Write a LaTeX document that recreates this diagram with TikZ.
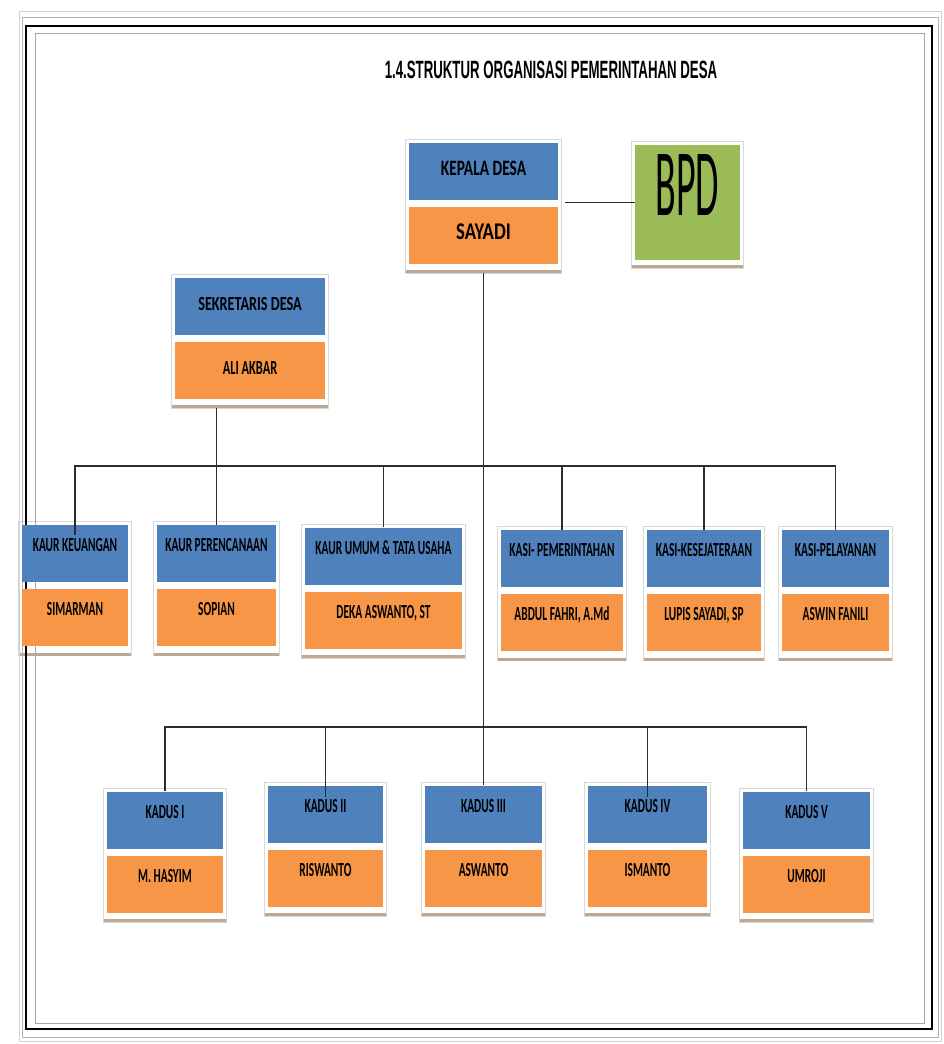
\documentclass[tikz,border=0pt]{standalone}
\usepackage{fontspec}
\setmainfont{Carlito}
\newfontfamily\judulfont{Liberation Sans}
\usetikzlibrary{positioning, calc, backgrounds}
\definecolor{kotakbiru}{RGB}{79,129,189}
\definecolor{kotakoranye}{RGB}{247,150,70}
\definecolor{kotakhijau}{RGB}{155,187,89}
\definecolor{bayang}{RGB}{190,168,145}
\definecolor{tepi}{RGB}{215,215,215}
\definecolor{garis}{RGB}{45,45,45}
\newcommand{\sempit}[2][0.57]{\scalebox{#1}[1]{#2}}

\begin{document}
\begin{tikzpicture}[x=1pt, y=-1pt,
    kotak/.style={inner sep=0pt, minimum height=57pt, text=black,
      font=\bfseries\fontsize{20}{20}\selectfont, text height=12pt, text depth=16pt},
    jabatan/.style={kotak, fill=kotakbiru, minimum width=#1},
    nama/.style={kotak, fill=kotakoranye, minimum width=#1},
    tengah/.style={text depth=4pt},
    hubung/.style={draw=garis, line width=1.4pt}]
  \useasboundingbox (0,0) rectangle (944,1044);
  % bingkai halaman
  \draw[gray!35, line width=1pt] (19,11) rectangle (941,1041);
  \draw[gray!60, line width=1pt] (22,17) rectangle (938,1037);
  \draw[black, line width=1.6pt] (26,26) rectangle (932,1029);
  \draw[gray!70, line width=1pt] (35,33) rectangle (924,1023);

  \node[font=\judulfont\bfseries\fontsize{25}{25}\selectfont] (judul) at (551,70)
    {\scalebox{0.53}[1]{1.4.STRUKTUR ORGANISASI PEMERINTAHAN DESA}};

  % kepala desa, bpd, sekretaris
  \node[jabatan=149pt, tengah, font=\bfseries\fontsize{22}{22}\selectfont] (kades) at (483.5,171) {\sempit[0.7]{KEPALA DESA}};
  \node[nama=149pt, tengah, font=\bfseries\fontsize{24}{24}\selectfont, below=7pt of kades] (kades-n) {\sempit[0.78]{SAYADI}};
  \node[fill=kotakhijau, minimum width=105pt, minimum height=115pt, inner sep=0pt,
    text height=60pt, text depth=34pt,
    font=\fontsize{95}{95}\selectfont] (bpd) at (687.5,202.5) {\scalebox{0.4}[1]{BPD}};
  \node[jabatan=150pt, tengah] (sekdes) at (250,306) {\sempit[0.71]{SEKRETARIS DESA}};
  \node[nama=150pt, tengah, below=7pt of sekdes] (sekdes-n) {\sempit[0.62]{ALI AKBAR}};

  % kaur dan kasi
  \node[jabatan=106pt] (keu) at (75,553.5) {\sempit{KAUR KEUANGAN}};
  \node[nama=106pt, below=7pt of keu] (keu-n) {\sempit{SIMARMAN}};
  \node[jabatan=119pt] (ren) at (216.5,553.5) {\sempit{KAUR PERENCANAAN}};
  \node[nama=119pt, below=7pt of ren] (ren-n) {\sempit{SOPIAN}};
  \node[jabatan=157pt] (umum) at (383.5,556) {\sempit{KAUR UMUM \& TATA USAHA}};
  \node[nama=157pt, below=7pt of umum] (umum-n) {\sempit{DEKA ASWANTO, ST}};
  \node[jabatan=122pt] (pem) at (562,558.5) {\sempit{KASI- PEMERINTAHAN}};
  \node[nama=122pt, below=7pt of pem] (pem-n) {\sempit{ABDUL FAHRI, A.Md}};
  \node[jabatan=114pt] (kes) at (704,558.5) {\sempit{KASI-KESEJATERAAN}};
  \node[nama=114pt, below=7pt of kes] (kes-n) {\sempit{LUPIS SAYADI, SP}};
  \node[jabatan=107pt] (pel) at (835.5,558.5) {\sempit{KASI-PELAYANAN}};
  \node[nama=107pt, below=7pt of pel] (pel-n) {\sempit{ASWIN FANILI}};

  % kepala dusun
  \node[jabatan=116pt] (k1) at (165,820) {\sempit{KADUS I}};
  \node[nama=116pt, below=7pt of k1] (k1-n) {\sempit{M. HASYIM}};
  \node[jabatan=115pt] (k2) at (325.5,814) {\sempit{KADUS II}};
  \node[nama=115pt, below=7pt of k2] (k2-n) {\sempit{RISWANTO}};
  \node[jabatan=117pt] (k3) at (483.5,814) {\sempit{KADUS III}};
  \node[nama=117pt, below=7pt of k3] (k3-n) {\sempit{ASWANTO}};
  \node[jabatan=119pt] (k4) at (647.5,814) {\sempit{KADUS IV}};
  \node[nama=119pt, below=7pt of k4] (k4-n) {\sempit{ISMANTO}};
  \node[jabatan=127pt] (k5) at (806.5,820) {\sempit{KADUS V}};
  \node[nama=127pt, below=7pt of k5] (k5-n) {\sempit{UMROJI}};

  % alas dan bayangan kotak
  \begin{scope}[on background layer]
    \fill[white] (0,0) rectangle (944,1044);
    \foreach \u in {kades,sekdes,keu,ren,umum,pem,kes,pel,k1,k2,k3,k4,k5} {
      \filldraw[fill=white, draw=tepi, line width=1pt]
        ($(\u.north west)+(-3,-3)$) rectangle ($(\u-n.south east)+(3,9)$);
      \fill[bayang] ($(\u-n.south west)+(-3,6)$) rectangle ($(\u-n.south east)+(3,9)$);
    }
    \filldraw[fill=white, draw=tepi, line width=1pt]
      ($(bpd.north west)+(-3,-3)$) rectangle ($(bpd.south east)+(3,8)$);
    \fill[bayang] ($(bpd.south west)+(-3,5)$) rectangle ($(bpd.south east)+(3,8)$);
  \end{scope}

  % garis hubung
  \coordinate (jalur1) at (483.5,466);
  \coordinate (jalur2) at (483.5,727);
  \draw[hubung] (bpd.west) -- ($(bpd.west -| kades.east)+(7,0)$);
  \draw[hubung] ($(kades-n.south)+(0,9)$) -- (k3.north);
  \draw[hubung] ($(sekdes-n.south -| ren.north)+(0,9)$) -- (ren.north);
  \draw[hubung] ($(keu.north)+(0,10)$) |- (jalur1) -| (pel.north);
  \foreach \u in {umum,pem,kes} {
    \draw[hubung] (\u.north) -- (\u.north |- jalur1);
  }
  \draw[hubung] (k1.north) |- (jalur2) -| (k5.north);
  \foreach \u in {k2,k4} {
    \draw[hubung] ($(\u.north)+(0,12)$) -- (\u.north |- jalur2);
  }
\end{tikzpicture}
\end{document}
